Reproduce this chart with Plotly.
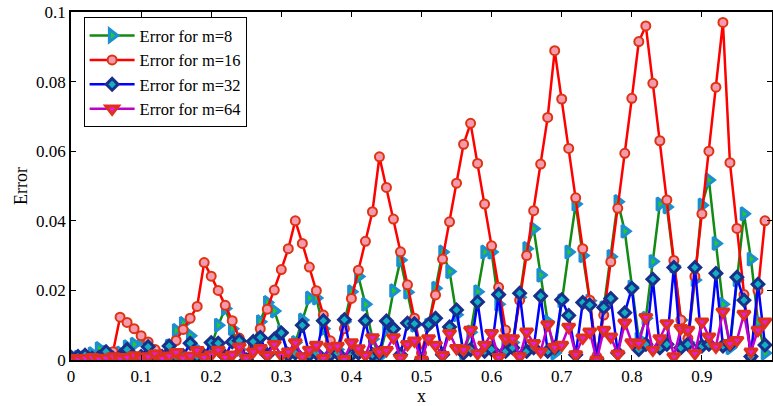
import plotly.graph_objects as go

x_vals = [round(i * 0.01, 2) for i in range(100)]

err_m8 = [0.0005, 0.0008, 0.0008, 0.0018, 0.0033, 0.0022, 0.0010, 0.0020, 0.0038, 0.0045,
          0.0060, 0.0030, 0.0010, 0.0012, 0.0040, 0.0085, 0.0105, 0.0070, 0.0030, 0.0010,
          0.0040, 0.0100, 0.0148, 0.0090, 0.0030, 0.0002, 0.0040, 0.0110, 0.0165, 0.0141,
          0.0080, 0.0020, 0.0050, 0.0115, 0.0178, 0.0178, 0.0090, 0.0020, 0.0030, 0.0110,
          0.0196, 0.0240, 0.0160, 0.0060, 0.0010, 0.0090, 0.0199, 0.0287, 0.0195, 0.0100,
          0.0005, 0.0100, 0.0206, 0.0310, 0.0254, 0.0130, 0.0020, 0.0080, 0.0196, 0.0310,
          0.0310, 0.0160, 0.0040, 0.0050, 0.0180, 0.0320, 0.0377, 0.0244, 0.0110, 0.0020,
          0.0170, 0.0310, 0.0448, 0.0300, 0.0170, 0.0005, 0.0150, 0.0297, 0.0455, 0.0370,
          0.0210, 0.0060, 0.0120, 0.0283, 0.0448, 0.0440, 0.0270, 0.0115, 0.0050, 0.0230,
          0.0445, 0.0517, 0.0335, 0.0160, 0.0035, 0.0230, 0.0420, 0.0290, 0.0110, 0.0020]

err_m16 = [0.0010, 0.0010, 0.0008, 0.0005, 0.0005, 0.0008, 0.0024, 0.0123, 0.0108, 0.0090,
           0.0070, 0.0052, 0.0030, 0.0012, 0.0025, 0.0056, 0.0088, 0.0120, 0.0154, 0.0280,
           0.0241, 0.0200, 0.0157, 0.0113, 0.0063, 0.0005, 0.0040, 0.0090, 0.0146, 0.0201,
           0.0260, 0.0320, 0.0400, 0.0335, 0.0267, 0.0199, 0.0129, 0.0055, 0.0020, 0.0090,
           0.0177, 0.0258, 0.0341, 0.0426, 0.0584, 0.0496, 0.0405, 0.0311, 0.0216, 0.0120,
           0.0020, 0.0100, 0.0187, 0.0290, 0.0397, 0.0508, 0.0620, 0.0680, 0.0565, 0.0448,
           0.0328, 0.0209, 0.0086, 0.0043, 0.0172, 0.0300, 0.0429, 0.0563, 0.0697, 0.0889,
           0.0750, 0.0608, 0.0466, 0.0320, 0.0172, 0.0010, 0.0129, 0.0282, 0.0436, 0.0594,
           0.0752, 0.0915, 0.0960, 0.0795, 0.0630, 0.0460, 0.0286, 0.0115, 0.0062, 0.0240,
           0.0420, 0.0600, 0.0784, 0.0970, 0.0567, 0.0378, 0.0188, 0.0005, 0.0200, 0.0400]

err_m32 = [0.0008, 0.0010, 0.0014, 0.0005, 0.0008, 0.0024, 0.0005, 0.0010, 0.0030, 0.0008,
           0.0010, 0.0038, 0.0008, 0.0010, 0.0040, 0.0008, 0.0012, 0.0048, 0.0010, 0.0012,
           0.0050, 0.0048, 0.0010, 0.0052, 0.0055, 0.0000, 0.0053, 0.0065, 0.0015, 0.0060,
           0.0078, 0.0015, 0.0020, 0.0100, 0.0015, 0.0020, 0.0113, 0.0015, 0.0020, 0.0116,
           0.0015, 0.0020, 0.0113, 0.0015, 0.0020, 0.0112, 0.0090, 0.0015, 0.0106, 0.0104,
           0.0000, 0.0102, 0.0120, 0.0015, 0.0095, 0.0144, 0.0020, 0.0030, 0.0167, 0.0025,
           0.0030, 0.0188, 0.0025, 0.0035, 0.0192, 0.0025, 0.0035, 0.0184, 0.0025, 0.0035,
           0.0173, 0.0128, 0.0015, 0.0165, 0.0158, 0.0000, 0.0151, 0.0177, 0.0020, 0.0136,
           0.0206, 0.0030, 0.0045, 0.0232, 0.0035, 0.0045, 0.0266, 0.0035, 0.0045, 0.0266,
           0.0040, 0.0045, 0.0249, 0.0040, 0.0045, 0.0238, 0.0172, 0.0010, 0.0218, 0.0043]

err_m64 = [0.0005, 0.0003, 0.0005, 0.0008, 0.0003, 0.0006, 0.0010, 0.0004, 0.0008, 0.0013,
           0.0005, 0.0010, 0.0018, 0.0005, 0.0012, 0.0022, 0.0006, 0.0012, 0.0028, 0.0008,
           0.0015, 0.0029, 0.0008, 0.0015, 0.0038, 0.0005, 0.0024, 0.0034, 0.0014, 0.0045,
           0.0014, 0.0024, 0.0050, 0.0010, 0.0029, 0.0043, 0.0005, 0.0038, 0.0040, 0.0002,
           0.0050, 0.0033, 0.0014, 0.0065, 0.0024, 0.0028, 0.0065, 0.0006, 0.0045, 0.0055,
           0.0000, 0.0062, 0.0043, 0.0014, 0.0077, 0.0034, 0.0030, 0.0086, 0.0019, 0.0043,
           0.0077, 0.0008, 0.0062, 0.0062, 0.0010, 0.0081, 0.0048, 0.0024, 0.0102, 0.0037,
           0.0043, 0.0095, 0.0016, 0.0064, 0.0081, 0.0000, 0.0086, 0.0067, 0.0017, 0.0107,
           0.0050, 0.0048, 0.0123, 0.0029, 0.0062, 0.0105, 0.0010, 0.0091, 0.0086, 0.0019,
           0.0110, 0.0067, 0.0038, 0.0139, 0.0048, 0.0057, 0.0132, 0.0024, 0.0086, 0.0110]

x_ticks = [0, 0.1, 0.2, 0.3, 0.4, 0.5, 0.6, 0.7, 0.8, 0.9, 1]
x_tick_labels = ["0", "0.1", "0.2", "0.3", "0.4", "0.5", "0.6", "0.7", "0.8", "0.9", "1"]
y_ticks = [0, 0.02, 0.04, 0.06, 0.08, 0.1]
y_tick_labels = ["0", "0.02", "0.04", "0.06", "0.08", "0.1"]

# name, values, line colour, symbol, face colour, edge colour, size, edge width
series = [
    ("Error for m=8", err_m8, "#138a13", "triangle-right", "#22cc22", "#1b8fd2", 11, 3),
    ("Error for m=16", err_m16, "#ff0000", "circle", "#f59aae", "#dd3311", 9, 2),
    ("Error for m=32", err_m32, "#0000ff", "diamond", "#10b0c0", "#1a2f8c", 9, 3),
    ("Error for m=64", err_m64, "#c000c8", "triangle-down", "#e020e0", "#e0301c", 11, 3),
]

fig = go.Figure()
for name, vals, lc, sym, fc, ec, sz, ew in series:
    fig.add_trace(go.Scatter(
        x=x_vals, y=vals, name=name, mode="lines+markers",
        line=dict(color=lc, width=2.5),
        marker=dict(symbol=sym, size=sz, color=fc, line=dict(color=ec, width=ew)),
    ))

font_family = "Liberation Serif, Times New Roman, serif"
fig.update_layout(
    width=773, height=406,
    margin=dict(l=71, r=1, t=12, b=46),
    paper_bgcolor="white", plot_bgcolor="white",
    font=dict(family=font_family, size=17, color="black"),
    showlegend=True,
    legend=dict(
        x=0.018, y=0.985, xanchor="left", yanchor="top",
        bordercolor="black", borderwidth=1, bgcolor="white",
        font=dict(family=font_family, size=16.5),
        tracegroupgap=0, itemwidth=45,
        entrywidth=175, entrywidthmode="pixels",
    ),
    xaxis=dict(
        range=[0, 1], tickvals=x_ticks, ticktext=x_tick_labels,
        ticks="inside", ticklen=5, tickcolor="black",
        showline=True, linecolor="black", linewidth=1.5, mirror="ticks",
        showgrid=False, zeroline=False, automargin=False,
        tickfont=dict(size=17),
        title=dict(text="x", standoff=2, font=dict(size=18)),
    ),
    yaxis=dict(
        range=[0, 0.1], tickvals=y_ticks, ticktext=y_tick_labels,
        ticks="inside", ticklen=5, tickcolor="black",
        showline=True, linecolor="black", linewidth=1.5, mirror="ticks",
        showgrid=False, zeroline=False, automargin=False,
        tickfont=dict(size=17),
        title=dict(text="Error", standoff=4, font=dict(size=18)),
    ),
)

fig.write_html(
    "out.html",
    config={"displayModeBar": False},
    post_script="document.body.style.margin='0px';document.body.style.overflow='hidden';",
)
